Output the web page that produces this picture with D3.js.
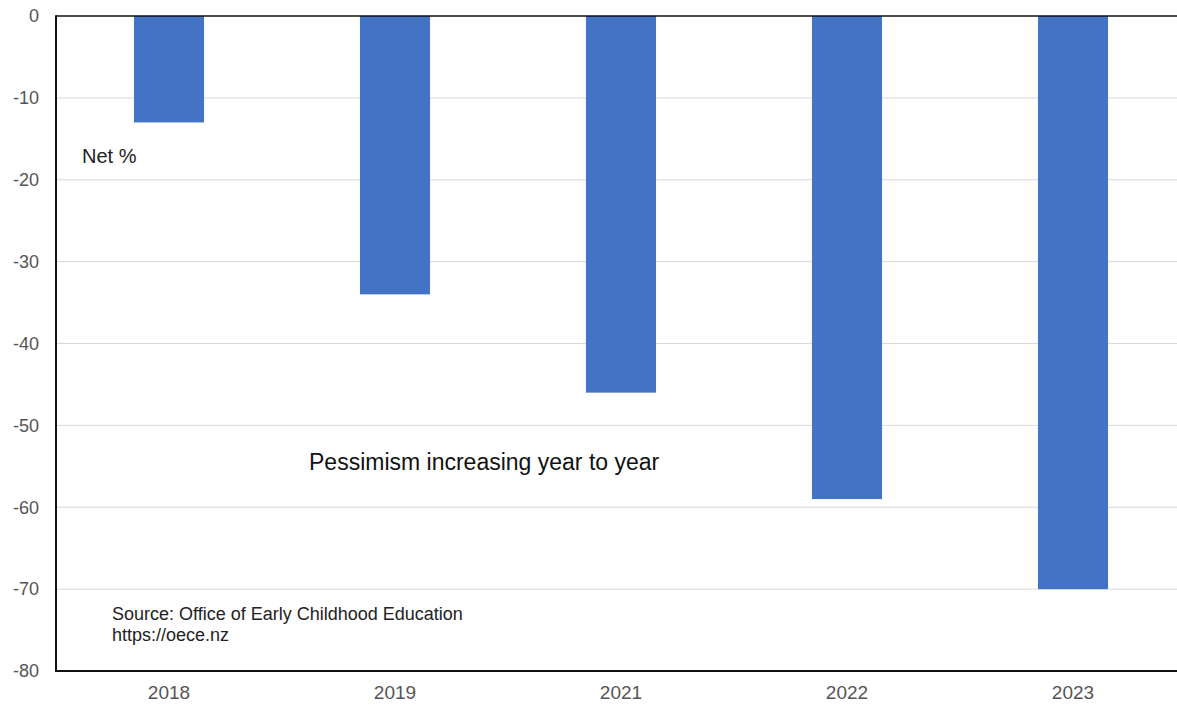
<!DOCTYPE html>
<html>
<head>
<meta charset="utf-8">
<script src="https://cdn.jsdelivr.net/npm/d3@7"></script>
<style>
  html, body { margin: 0; padding: 0; background: #fff; overflow: hidden; }
  svg { display: block; font-family: "Liberation Sans", Arial, sans-serif; }
</style>
</head>
<body>
<svg id="chart" width="1177" height="705"></svg>
<script>
// Net % of respondents, by survey year
const years = ["2018", "2019", "2021", "2022", "2023"];
const netValues = [-13, -34, -46, -59, -70];
const yTicks = [0, -10, -20, -30, -40, -50, -60, -70, -80];

const svg = d3.select("#chart");
const m = { top: 16, left: 56, bottom: 671 };
const plotRight = 1186;   // plot area runs slightly past the visible frame

const x = d3.scaleBand().domain(years).range([m.left, plotRight]).paddingInner(0.69).paddingOuter(0.345);
const y = d3.scaleLinear().domain([-80, 0]).range([m.bottom, m.top]);

// horizontal gridlines
svg.append("g")
  .selectAll("line")
  .data(yTicks.filter(d => d !== 0 && d !== -80))
  .join("line")
  .attr("x1", m.left).attr("x2", plotRight)
  .attr("y1", d => y(d)).attr("y2", d => y(d))
  .attr("stroke", "#d9d9d9").attr("stroke-width", 1);

// bars
svg.append("g")
  .selectAll("rect")
  .data(years.map((yr, i) => ({ yr, v: netValues[i] })))
  .join("rect")
  .attr("x", d => x(d.yr))
  .attr("width", x.bandwidth())
  .attr("y", y(0))
  .attr("height", d => y(d.v) - y(0))
  .attr("fill", "#4472c4");

// y axis labels (plain hyphen for negatives)
const yAxis = d3.axisLeft(y).tickValues(yTicks).tickSize(0).tickPadding(17).tickFormat(d => String(d));
const yg = svg.append("g").attr("transform", `translate(${m.left},0)`).call(yAxis);
yg.select(".domain").remove();
yg.selectAll("text").attr("fill", "#555").attr("font-size", 18).attr("font-family", "Liberation Sans, Arial, sans-serif");

// x axis labels
const xAxis = d3.axisBottom(x).tickSize(0).tickPadding(15);
const xg = svg.append("g").attr("transform", `translate(0,${m.bottom})`).call(xAxis);
xg.select(".domain").remove();
xg.selectAll("text").attr("fill", "#555").attr("font-size", 19).attr("font-family", "Liberation Sans, Arial, sans-serif");

// frame lines: top, left, bottom
svg.append("line").attr("x1", m.left).attr("x2", plotRight).attr("y1", m.top).attr("y2", m.top)
  .attr("stroke", "#111").attr("stroke-width", 1.5);
svg.append("line").attr("x1", m.left).attr("x2", m.left).attr("y1", m.top - 0.75).attr("y2", m.bottom + 1)
  .attr("stroke", "#111").attr("stroke-width", 2);
svg.append("line").attr("x1", m.left).attr("x2", plotRight).attr("y1", m.bottom).attr("y2", m.bottom)
  .attr("stroke", "#111").attr("stroke-width", 2);

// annotations
svg.append("text").attr("x", 82).attr("y", 163).attr("font-size", 20).attr("fill", "#222").text("Net %");
svg.append("text").attr("x", 309).attr("y", 470).attr("font-size", 23).attr("fill", "#111").text("Pessimism increasing year to year");
svg.append("text").attr("x", 112).attr("y", 620).attr("font-size", 18).attr("fill", "#222").text("Source: Office of Early Childhood Education");
svg.append("text").attr("x", 112).attr("y", 641).attr("font-size", 18).attr("fill", "#222").text("https://oece.nz");
</script>
</body>
</html>
